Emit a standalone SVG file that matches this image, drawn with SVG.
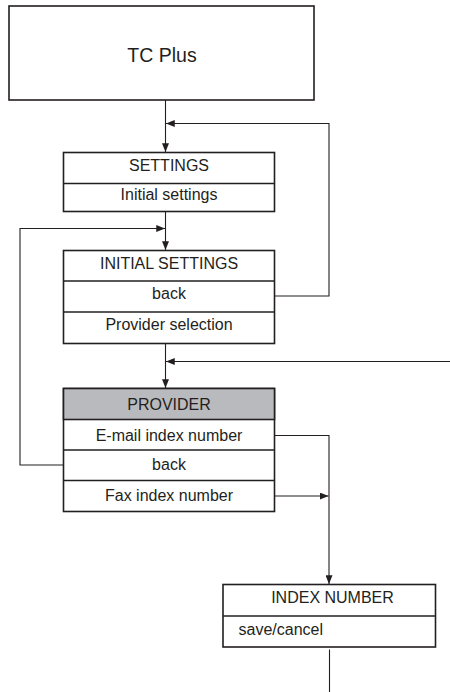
<svg xmlns="http://www.w3.org/2000/svg" width="450" height="692" viewBox="0 0 450 692">
<style>
.box{fill:#fff;stroke:#231f20;stroke-width:1.6}
.hdr{fill:#b9babd;stroke:#231f20;stroke-width:1.6}
.div{stroke:#231f20;stroke-width:1.6}
.t{font-family:"Liberation Sans",Arial,sans-serif;font-size:16px;fill:#231f20;text-anchor:middle}
.big{font-size:19.5px}
.c{fill:none;stroke:#231f20;stroke-width:1.1}
</style>
<defs>
<marker id="ah" viewBox="0 0 10 8" refX="10" refY="4" markerWidth="9" markerHeight="7" markerUnits="userSpaceOnUse" orient="auto">
<path d="M0,0 L10,4 L0,8 z" fill="#231f20"/>
</marker>
</defs>
<g id="tcplus">
<rect class="box" x="9" y="6" width="305" height="94"/>
<text class="t big" x="162" y="62">TC Plus</text>
</g>
<g id="settings">
<rect class="box" x="63.5" y="152.5" width="211" height="59"/>
<line class="div" x1="63.5" y1="183.5" x2="274.5" y2="183.5"/>
<text class="t" x="169" y="171">SETTINGS</text>
<text class="t" x="169" y="200">Initial settings</text>
</g>
<g id="initial-settings">
<rect class="box" x="63.5" y="250.5" width="211" height="93"/>
<line class="div" x1="63.5" y1="281" x2="274.5" y2="281"/>
<line class="div" x1="63.5" y1="312" x2="274.5" y2="312"/>
<text class="t" x="169" y="269">INITIAL SETTINGS</text>
<text class="t" x="169" y="298.5">back</text>
<text class="t" x="169" y="330">Provider selection</text>
</g>
<g id="provider">
<rect class="box" x="63.5" y="388.5" width="211" height="123"/>
<rect class="hdr" x="63.5" y="388.5" width="211" height="31"/>
<line class="div" x1="63.5" y1="450" x2="274.5" y2="450"/>
<line class="div" x1="63.5" y1="480.5" x2="274.5" y2="480.5"/>
<text class="t" x="169" y="410">PROVIDER</text>
<text class="t" x="169" y="440.5">E-mail index number</text>
<text class="t" x="169" y="470">back</text>
<text class="t" x="169" y="500.5">Fax index number</text>
</g>
<g id="index-number">
<rect class="box" x="223" y="584.5" width="212.5" height="62.5"/>
<line class="div" x1="223" y1="616" x2="435.5" y2="616"/>
<text class="t" x="332.5" y="603">INDEX NUMBER</text>
<text class="t" x="238.5" y="635" style="text-anchor:start">save/cancel</text>
</g>
<g id="connectors">
<path class="c" d="M165.5,100 V152" marker-end="url(#ah)"/>
<path class="c" d="M274.5,296 H329 V123.5 H166" marker-end="url(#ah)"/>
<path class="c" d="M165.5,211.5 V250" marker-end="url(#ah)"/>
<path class="c" d="M63.5,465 H20 V228.5 H165" marker-end="url(#ah)"/>
<path class="c" d="M165.5,343.5 V388" marker-end="url(#ah)"/>
<path class="c" d="M450,361.5 H166" marker-end="url(#ah)"/>
<path class="c" d="M274.5,435.5 H329 V584" marker-end="url(#ah)"/>
<path class="c" d="M274.5,496 H328.5" marker-end="url(#ah)"/>
<path class="c" d="M329.5,649.5 V692"/>
</g>
</svg>
